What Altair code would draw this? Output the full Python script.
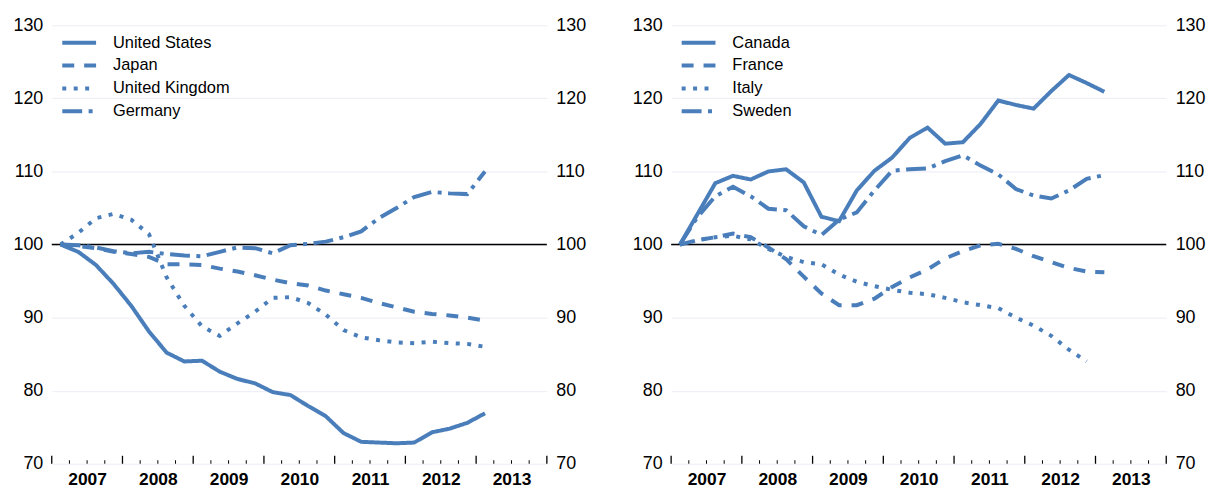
import altair as alt
import pandas as pd

# ---------------- data ----------------
quarters = [f"{y}Q{q}" for y in range(2007, 2014) for q in range(1, 5)][:25]

left_names = ["United States", "Japan", "United Kingdom", "Germany"]
us = [100, 99.0, 97.2, 94.6, 91.6, 88.1, 85.2, 84.0, 84.1, 82.6, 81.6, 81.0, 79.8,
      79.4, 77.9, 76.5, 74.2, 73.0, 72.9, 72.8, 72.9, 74.3, 74.8, 75.6, 76.9]
japan = [100, 99.8, 99.5, 99.0, 98.7, 98.3, 97.3, 97.3, 97.2, 96.7, 96.3, 95.8, 95.2,
         94.7, 94.4, 93.7, 93.2, 92.7, 92.0, 91.4, 90.8, 90.5, 90.3, 90.0, 89.6]
uk = [100, 101.6, 103.6, 104.2, 103.4, 101.4, 95.5, 91.6, 88.8, 87.5, 89.2, 90.8, 92.7,
      92.8, 92.0, 90.4, 88.3, 87.3, 86.9, 86.6, 86.5, 86.7, 86.5, 86.4, 86.0]
germany = [100, 99.9, 99.6, 99.1, 98.8, 99.0, 98.7, 98.5, 98.4, 99.0, 99.6, 99.5, 98.8,
           99.9, 100.1, 100.4, 101.0, 101.8, 103.6, 105.0, 106.5, 107.2, 107.0, 106.9, 110.0]

right_names = ["Canada", "France", "Italy", "Sweden"]
canada = [100, 104.2, 108.4, 109.4, 108.9, 110.0, 110.3, 108.5, 103.8, 103.2, 107.4, 110.1,
          111.9, 114.6, 116.0, 113.8, 114.0, 116.5, 119.7, 119.1, 118.6, 121.0, 123.2, 122.1, 120.9]
france = [100, 100.6, 101.0, 101.5, 101.0, 99.6, 98.0, 95.6, 93.3, 91.7, 91.7, 92.6, 94.2,
          95.5, 96.6, 98.1, 99.1, 99.9, 100.1, 99.4, 98.4, 97.6, 96.8, 96.3, 96.2]
italy = [100, 100.6, 101.0, 101.2, 100.7, 99.4, 98.3, 97.6, 97.3, 95.9, 94.9, 94.3, 93.8,
         93.4, 93.2, 92.7, 92.1, 91.7, 91.3, 90.0, 88.9, 87.5, 85.6, 84.0]
sweden = [100, 103.8, 106.6, 107.9, 106.6, 104.9, 104.7, 102.5, 101.3, 103.4, 104.4, 107.4,
          110.1, 110.3, 110.4, 111.4, 112.2, 110.8, 109.6, 107.6, 106.7, 106.3, 107.4, 109.0, 109.5]

years = [2007, 2008, 2009, 2010, 2011, 2012, 2013]
y_ticks = [70, 80, 90, 100, 110, 120, 130]
reference_level = [100]

# ---------------- styling ----------------
BLUE = "#4a7ebb"
FONT = "Liberation Sans"
DASHES = [[1, 0], [12, 10], [4, 7.5], [20, 6.5, 4, 6.5]]
W, H = 498, 441

major_ticks = years + [years[-1] + 1]
minor_ticks = [y + q / 4 for y in years for q in (1, 2, 3)]
label_pos = [y + 0.5 for y in years]


def qpos(s):
    return int(s[:4]) + (int(s[-1]) - 0.5) / 4


def panel(names, series):
    rows = []
    for name, vals in zip(names, series):
        for q, v in zip(quarters, vals):
            rows.append({"series": name, "t": qpos(q), "value": v})
    df = pd.DataFrame(rows)

    xscale = alt.Scale(domain=[2007, 2014], nice=False, zero=False)
    yscale = alt.Scale(domain=[70, 130], nice=False, zero=False)

    ref = alt.Chart(pd.DataFrame({"ref": reference_level})).mark_rule(
        color="black", strokeWidth=1.5
    ).encode(
        y=alt.Y("ref:Q", scale=yscale,
                axis=alt.Axis(orient="right", values=y_ticks, domain=False, ticks=False,
                              grid=False, labelFontSize=18, labelPadding=9, title=None,
                              labelColor="black", labelFont=FONT))
    )

    lines = alt.Chart(df).mark_line(strokeWidth=4, color=BLUE, strokeCap="butt").encode(
        x=alt.X("t:Q", scale=xscale,
                axis=alt.Axis(values=label_pos, labelExpr="'' + floor(datum.value)",
                              ticks=False, domain=False, grid=False, labelFontWeight="bold",
                              labelFontSize=17.5, labelPadding=7, title=None, orient="bottom",
                              labelColor="black", labelFont=FONT)),
        y=alt.Y("value:Q", scale=yscale,
                axis=alt.Axis(orient="left", values=y_ticks, domain=False, ticks=False,
                              grid=True, gridColor="#ececf6", gridWidth=1,
                              labelFontSize=18, labelPadding=9, title=None,
                              labelColor="black", labelFont=FONT)),
        strokeDash=alt.StrokeDash(
            "series:N",
            scale=alt.Scale(domain=names, range=DASHES),
            legend=alt.Legend(title=None, orient="none", legendX=8.6, legendY=6.3,
                              symbolType="stroke", symbolSize=1156, symbolStrokeWidth=4,
                              symbolStrokeColor=BLUE, labelFontSize=16.5, labelOffset=15,
                              clipHeight=22.3, rowPadding=0, padding=0,
                              labelColor="black", labelFont=FONT),
        ),
        detail="series:N",
    )

    major = alt.Chart(pd.DataFrame({"tick": major_ticks})).mark_rule(
        color="black", strokeWidth=1.3
    ).encode(x=alt.X("tick:Q", scale=xscale, axis=None),
             y=alt.value(H), y2=alt.value(H - 8))

    minor = alt.Chart(pd.DataFrame({"tick": minor_ticks})).mark_rule(
        color="black", strokeWidth=1
    ).encode(x=alt.X("tick:Q", scale=xscale, axis=None),
             y=alt.value(H), y2=alt.value(H - 3.5))

    return alt.layer(ref, lines, major, minor).resolve_axis(
        x="independent", y="independent").properties(width=W, height=H)


left = panel(left_names, [us, japan, uk, germany])
right = panel(right_names, [canada, france, italy, sweden])

chart = alt.hconcat(left, right, spacing=45).resolve_scale(
    strokeDash="independent", x="independent", y="independent"
).properties(
    padding={"left": 4, "top": 7, "right": 0, "bottom": 0}
).configure_view(strokeWidth=0)

chart.save("out.html", embed_options={"renderer": "svg", "actions": False})
